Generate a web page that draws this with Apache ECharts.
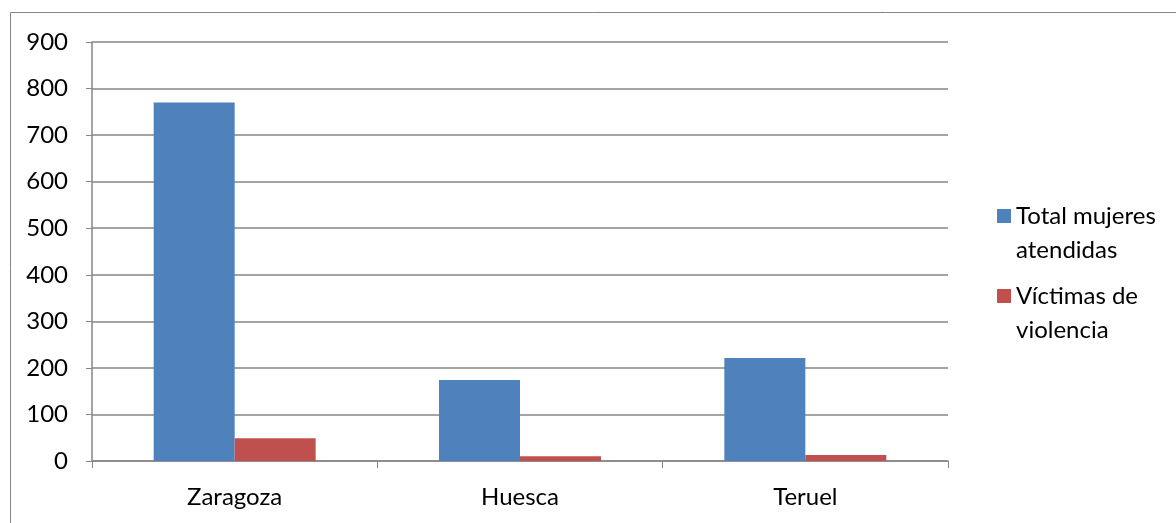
<!DOCTYPE html>
<html><head><meta charset="utf-8">
<script src="https://cdn.jsdelivr.net/npm/echarts@6/dist/echarts.min.js"></script>
<style>html,body{margin:0;padding:0;background:#fff}#c{width:1176px;height:523px}</style>
</head><body><div id="c"></div>
<script>
const categories = ['Zaragoza', 'Huesca', 'Teruel'];
const seriesNames = ['Total mujeres atendidas', 'Víctimas de violencia'];
const legendLabels = ['Total mujeres\natendidas', 'Víctimas de\nviolencia'];
const totalMujeres = [770, 174, 221];
const victimas = [49, 10, 13];
const yTicks = [0, 100, 200, 300, 400, 500, 600, 700, 800, 900];

const chart = echarts.init(document.getElementById('c'));
const font = 'Lato, "Open Sans", sans-serif';
// square icon aligned with the first text line (empty sub-path extends the box downward)
const iconPath = 'path://M0,0L14,0L14,14L0,14Z M0,48L0.001,48';
chart.setOption({
  animation: false,
  graphic: [{type: 'rect', shape: {x: 10.5, y: 12.5, width: 1180, height: 520}, style: {fill: 'none', stroke: '#868686', lineWidth: 1}, silent: true}],
  grid: {left: 92, right: 228, top: 42, bottom: 62},
  legend: {
    orient: 'vertical', left: 992, top: 194, itemWidth: 14, itemHeight: 48, itemGap: 12,
    icon: iconPath,
    data: seriesNames,
    formatter: n => legendLabels[seriesNames.indexOf(n)],
    textStyle: {fontFamily: font, fontSize: 24, color: '#000', lineHeight: 34},
    itemStyle: {borderWidth: 0}
  },
  xAxis: {
    type: 'category', data: categories,
    axisLine: {lineStyle: {color: '#868686', width: 1.5}},
    axisTick: {show: true, length: 7, lineStyle: {color: '#868686'}},
    axisLabel: {fontFamily: font, fontSize: 24, color: '#000', margin: 24}
  },
  yAxis: {
    type: 'value', min: 0, max: 900, interval: 100,
    axisLine: {show: true, lineStyle: {color: '#868686', width: 1.5}},
    axisTick: {show: true, length: 6, lineStyle: {color: '#868686'}},
    splitLine: {lineStyle: {color: '#868686', width: 1.5}},
    axisLabel: {fontFamily: font, fontSize: 24, color: '#000', margin: 24,
      formatter: v => yTicks.includes(v) ? String(v) : ''}
  },
  series: [
    {name: seriesNames[0], type: 'bar', data: totalMujeres, barWidth: 81, barGap: '0%',
      itemStyle: {color: '#4f81bd'}},
    {name: seriesNames[1], type: 'bar', data: victimas, barWidth: 81,
      itemStyle: {color: '#c0504d'}}
  ]
});
</script></body></html>
